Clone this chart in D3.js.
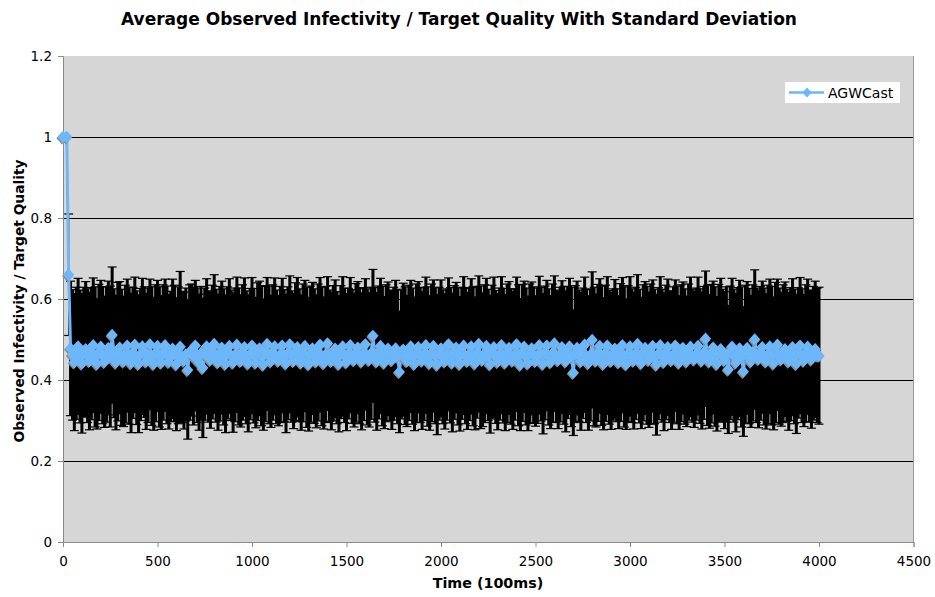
<!DOCTYPE html>
<html><head><meta charset="utf-8">
<script src="https://cdn.jsdelivr.net/npm/d3@7"></script>
<style>body{margin:0;background:#fff}svg{display:block}</style>
</head><body><svg id="c" width="935" height="597"></svg>
<script>
const title = "Average Observed Infectivity / Target Quality With Standard Deviation";
const xTitle = "Time (100ms)";
const yTitle = "Observed Infectivity / Target Quality";
const seriesName = "AGWCast";
const xTicks = [0,500,1000,1500,2000,2500,3000,3500,4000,4500];
const yTicks = [0,0.2,0.4,0.6,0.8,1,1.2];
const yTickLabels = ["0","0.2","0.4","0.6","0.8","1","1.2"];

const times = [0,20,30,
40,50,60,70,80,90,100,110,120,130,
140,150,160,170,180,190,200,210,220,230,
240,250,260,270,280,290,300,310,320,330,
340,350,360,370,380,390,400,410,420,430,
440,450,460,470,480,490,500,510,520,530,
540,550,560,570,580,590,600,610,620,630,
640,650,660,670,680,690,700,710,720,730,
740,750,760,770,780,790,800,810,820,830,
840,850,860,870,880,890,900,910,920,930,
940,950,960,970,980,990,1000,1010,1020,1030,
1040,1050,1060,1070,1080,1090,1100,1110,1120,1130,
1140,1150,1160,1170,1180,1190,1200,1210,1220,1230,
1240,1250,1260,1270,1280,1290,1300,1310,1320,1330,
1340,1350,1360,1370,1380,1390,1400,1410,1420,1430,
1440,1450,1460,1470,1480,1490,1500,1510,1520,1530,
1540,1550,1560,1570,1580,1590,1600,1610,1620,1630,
1640,1650,1660,1670,1680,1690,1700,1710,1720,1730,
1740,1750,1760,1770,1780,1790,1800,1810,1820,1830,
1840,1850,1860,1870,1880,1890,1900,1910,1920,1930,
1940,1950,1960,1970,1980,1990,2000,2010,2020,2030,
2040,2050,2060,2070,2080,2090,2100,2110,2120,2130,
2140,2150,2160,2170,2180,2190,2200,2210,2220,2230,
2240,2250,2260,2270,2280,2290,2300,2310,2320,2330,
2340,2350,2360,2370,2380,2390,2400,2410,2420,2430,
2440,2450,2460,2470,2480,2490,2500,2510,2520,2530,
2540,2550,2560,2570,2580,2590,2600,2610,2620,2630,
2640,2650,2660,2670,2680,2690,2700,2710,2720,2730,
2740,2750,2760,2770,2780,2790,2800,2810,2820,2830,
2840,2850,2860,2870,2880,2890,2900,2910,2920,2930,
2940,2950,2960,2970,2980,2990,3000,3010,3020,3030,
3040,3050,3060,3070,3080,3090,3100,3110,3120,3130,
3140,3150,3160,3170,3180,3190,3200,3210,3220,3230,
3240,3250,3260,3270,3280,3290,3300,3310,3320,3330,
3340,3350,3360,3370,3380,3390,3400,3410,3420,3430,
3440,3450,3460,3470,3480,3490,3500,3510,3520,3530,
3540,3550,3560,3570,3580,3590,3600,3610,3620,3630,
3640,3650,3660,3670,3680,3690,3700,3710,3720,3730,
3740,3750,3760,3770,3780,3790,3800,3810,3820,3830,
3840,3850,3860,3870,3880,3890,3900,3910,3920,3930,
3940,3950,3960,3970,3980,3990,4000];

const means = [1,1,0.66,
.478,.462,.444,.466,.483,.458,.441,.469,.476,.460,
.447,.465,.486,.457,.440,.468,.482,.461,.445,.463,
.479,.458,.511,.466,.443,.470,.480,.456,.446,.464,
.485,.460,.442,.467,.487,.455,.440,.463,.483,.469,
.446,.461,.488,.459,.440,.466,.484,.457,.443,.468,
.486,.462,.445,.458,.477,.466,.439,.461,.482,.457,
.448,.463,.425,.468,.474,.459,.485,.461,.444,.466,
.430,.464,.483,.458,.450,.469,.489,.460,.444,.465,
.480,.457,.440,.467,.484,.461,.443,.462,.487,.458,
.447,.468,.481,.456,.441,.464,.485,.460,.443,.470,
.478,.459,.438,.465,.489,.462,.446,.468,.483,.457,
.448,.463,.485,.460,.441,.466,.488,.458,.447,.470,
.481,.461,.443,.467,.484,.456,.439,.464,.478,.459,
.446,.468,.487,.458,.442,.463,.490,.460,.447,.466,
.477,.455,.440,.469,.483,.461,.444,.465,.486,.458,
.449,.467,.480,.459,.446,.464,.488,.457,.450,.466,
.509,.462,.446,.468,.484,.459,.443,.466,.477,.461,
.449,.465,.478,.458,.420,.463,.475,.460,.447,.467,
.483,.459,.440,.466,.481,.462,.448,.464,.486,.458,
.442,.467,.484,.460,.438,.465,.478,.457,.446,.463,
.488,.461,.443,.468,.480,.458,.440,.466,.485,.460,
.447,.463,.483,.459,.441,.467,.489,.456,.450,.465,
.484,.462,.439,.469,.481,.457,.445,.464,.486,.460,
.443,.466,.479,.458,.448,.463,.488,.461,.438,.467,
.482,.458,.441,.465,.478,.462,.447,.460,.486,.464,
.440,.467,.485,.457,.444,.466,.490,.459,.449,.463,
.481,.461,.446,.468,.483,.457,.418,.464,.479,.460,
.446,.466,.487,.459,.442,.462,.499,.458,.448,.467,
.484,.460,.440,.466,.485,.456,.447,.463,.477,.461,
.444,.468,.486,.457,.439,.465,.483,.460,.448,.466,
.489,.459,.442,.467,.479,.461,.450,.464,.484,.458,
.438,.465,.486,.460,.445,.468,.481,.457,.449,.463,
.485,.462,.443,.466,.479,.458,.446,.469,.482,.460,
.451,.464,.484,.459,.448,.467,.502,.461,.446,.465,
.480,.458,.440,.466,.476,.461,.449,.463,.426,.467,
.482,.460,.443,.465,.478,.457,.421,.464,.479,.459,
.446,.467,.500,.461,.452,.466,.481,.458,.446,.463,
.483,.460,.441,.468,.487,.459,.451,.465,.476,.461,
.446,.464,.481,.458,.440,.467,.485,.460,.448,.466,
.482,.459,.451,.466,.476,.461,.460];

const stds = [0,0,0.15,
.166,.161,.169,.163,.168,.164,.172,.160,.167,.165,
.170,.163,.166,.173,.161,.168,.164,.169,.162,.167,
.165,.174,.168,.159,.166,.171,.163,.168,.161,.170,
.164,.169,.172,.162,.167,.165,.170,.163,.168,.161,
.168,.166,.161,.171,.164,.169,.162,.173,.165,.167,
.163,.170,.166,.161,.172,.168,.164,.169,.186,.162,
.169,.164,.171,.167,.163,.170,.161,.166,.168,.165,
.172,.163,.167,.162,.169,.165,.171,.164,.168,.166,
.164,.168,.170,.163,.166,.161,.172,.165,.167,.169,
.163,.167,.171,.164,.169,.162,.168,.166,.161,.170,
.166,.172,.162,.168,.164,.170,.163,.167,.169,.165,
.161,.168,.166,.163,.171,.164,.169,.162,.167,.170,
.172,.164,.167,.170,.162,.173,.165,.168,.163,.166,
.164,.169,.166,.171,.163,.168,.165,.162,.170,.167,
.170,.163,.168,.164,.172,.166,.169,.161,.167,.165,
.165,.171,.163,.167,.169,.164,.162,.168,.166,.163,
.164,.166,.170,.164,.167,.172,.163,.169,.165,.161,
.171,.164,.168,.166,.150,.159,.164,.170,.162,.167,
.163,.168,.165,.171,.162,.167,.170,.164,.168,.172,
.166,.170,.163,.168,.173,.164,.169,.165,.167,.162,
.164,.167,.171,.165,.161,.169,.166,.163,.170,.168,
.169,.163,.167,.172,.164,.161,.168,.176,.165,.170,
.167,.162,.170,.165,.173,.164,.168,.163,.169,.166,
.168,.171,.164,.167,.170,.162,.166,.174,.163,.169,
.162,.169,.166,.172,.164,.168,.161,.167,.170,.165,
.173,.165,.161,.168,.164,.171,.167,.163,.169,.166,
.164,.170,.174,.163,.168,.172,.155,.169,.165,.162,
.170,.161,.167,.164,.166,.163,.168,.171,.164,.169,
.166,.172,.163,.168,.170,.165,.169,.162,.171,.164,
.164,.170,.167,.173,.161,.168,.172,.165,.169,.163,
.171,.165,.162,.168,.164,.170,.167,.173,.163,.166,
.174,.163,.169,.164,.170,.166,.168,.162,.171,.167,
.162,.170,.165,.169,.163,.167,.161,.168,.172,.164,
.168,.163,.170,.166,.169,.164,.167,.173,.165,.171,
.164,.172,.166,.170,.175,.163,.169,.167,.158,.165,
.169,.164,.171,.163,.168,.173,.160,.170,.164,.167,
.163,.168,.172,.166,.170,.165,.163,.169,.167,.171,
.166,.171,.164,.173,.162,.168,.165,.170,.166,.163,
.170,.164,.169,.166,.172,.161,.168,.165,.163,.169,
.167,.163,.170,.165,.168,.166,.169];

const data = times.map((t,i)=>({t, m: means[i], s: stds[i]}));

const svg = d3.select("#c");
const L=63, R=913.5, T=56, B=542;
const x = d3.scaleLinear().domain([0,4500]).range([L,R]);
const y = d3.scaleLinear().domain([0,1.2]).range([B,T]);
const blue = "#6cb6fa";
const font = "DejaVu Sans, Verdana, sans-serif";

svg.append("rect").attr("x",L).attr("y",T).attr("width",R-L).attr("height",B-T).attr("fill","#d6d6d6");
svg.append("g").selectAll("line").data(yTicks.filter(v=>v>0&&v<1.2)).join("line")
  .attr("x1",L).attr("x2",R).attr("y1",d=>Math.round(y(d))+0.5).attr("y2",d=>Math.round(y(d))+0.5)
  .attr("stroke","#000").attr("stroke-width",1);
svg.append("line").attr("x1",R).attr("x2",R).attr("y1",T).attr("y2",B).attr("stroke","#999");

const yAxis = svg.append("g").attr("transform",`translate(${L},0)`)
  .call(d3.axisLeft(y).tickValues(yTicks).tickFormat((d,i)=>yTickLabels[i]).tickSize(5).tickPadding(6));
const xAxis = svg.append("g").attr("transform",`translate(0,${B})`)
  .call(d3.axisBottom(x).tickValues(xTicks).tickFormat(d3.format("d")).tickSize(5).tickPadding(9));
[yAxis,xAxis].forEach(a=>{
  a.selectAll("path,line").attr("stroke","#8a8a8a");
  a.selectAll("text").attr("font-family",font).attr("font-size","13.5px").attr("fill","#000");
});

// error bars
const eb = svg.append("g");
const ebData = data.filter(d=>d.s>0);
eb.selectAll("line.v").data(ebData).join("line").attr("class","v")
  .attr("x1",d=>x(d.t)).attr("x2",d=>x(d.t)).attr("y1",d=>y(d.m+d.s)).attr("y2",d=>y(d.m-d.s))
  .attr("stroke","#000").attr("stroke-width",(d,i)=>i===0?1.2:3);
eb.selectAll("line.cu").data(ebData).join("line").attr("class","cu")
  .attr("x1",d=>x(d.t)-4.5).attr("x2",d=>x(d.t)+4.5).attr("y1",d=>y(d.m+d.s)).attr("y2",d=>y(d.m+d.s))
  .attr("stroke","#000").attr("stroke-width",1.2);
eb.selectAll("line.cl").data(ebData).join("line").attr("class","cl")
  .attr("x1",d=>x(d.t)-4.5).attr("x2",d=>x(d.t)+4.5).attr("y1",d=>y(d.m-d.s)).attr("y2",d=>y(d.m-d.s))
  .attr("stroke","#000").attr("stroke-width",1.2);

svg.append("path").datum(data)
  .attr("d", d3.line().x(d=>x(d.t)).y(d=>y(d.m)))
  .attr("fill","none").attr("stroke",blue).attr("stroke-width",3);

const diamond = "M0,-6.2L5.6,0L0,6.2L-5.6,0Z";
svg.append("g").selectAll("path").data(data).join("path")
  .attr("d",diamond).attr("transform",d=>`translate(${x(d.t)-1},${y(d.m)+1.2})`).attr("fill","#8c8c8c");
svg.append("g").selectAll("path").data(data).join("path")
  .attr("d",diamond).attr("transform",d=>`translate(${x(d.t)},${y(d.m)})`).attr("fill",blue);

// legend
const lg = svg.append("g");
lg.append("rect").attr("x",785).attr("y",82).attr("width",115).attr("height",21).attr("fill","#fff");
lg.append("line").attr("x1",789).attr("x2",824).attr("y1",92.5).attr("y2",92.5).attr("stroke",blue).attr("stroke-width",2.5);
lg.append("path").attr("d","M0,-5L4.5,0L0,5L-4.5,0Z").attr("transform","translate(807,92.5)").attr("fill",blue);
lg.append("text").attr("x",828).attr("y",97.5).attr("font-family",font).attr("font-size","14px").text(seriesName);

svg.append("text").attr("x",459).attr("y",24.5).attr("text-anchor","middle")
  .attr("font-family",font).attr("font-weight","bold").attr("font-size","17px").text(title);
svg.append("text").attr("x",488).attr("y",587.5).attr("text-anchor","middle")
  .attr("font-family",font).attr("font-weight","bold").attr("font-size","14.3px").text(xTitle);
svg.append("text").attr("transform","translate(24,301) rotate(-90)").attr("text-anchor","middle")
  .attr("font-family",font).attr("font-weight","bold").attr("font-size","13.8px").text(yTitle);
</script></body></html>
